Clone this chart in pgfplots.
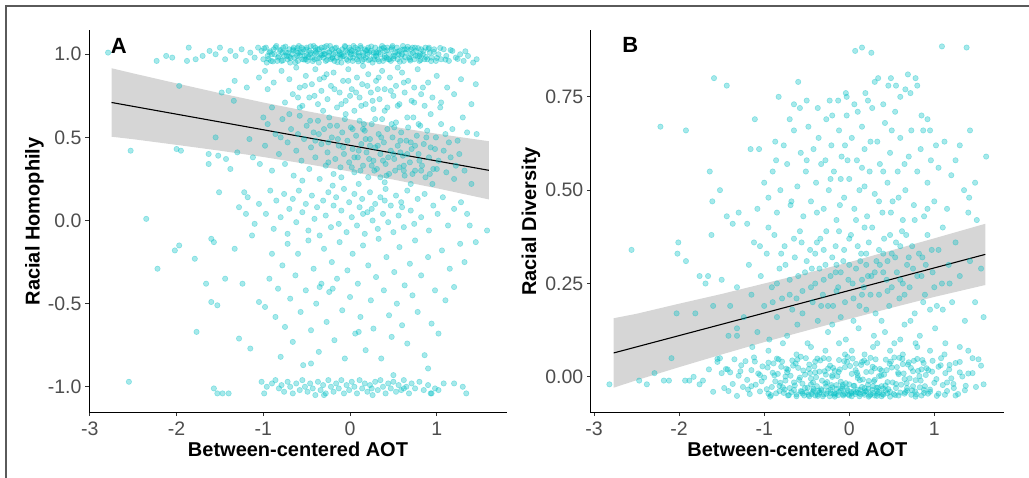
\documentclass[border=0pt]{standalone}
\usepackage{fontspec}
\setmainfont{Liberation Sans}
\usepackage{pgfplots}
\pgfplotsset{compat=1.18}

\definecolor{ptcol}{HTML}{00BFC4}
\definecolor{bandcol}{RGB}{153,153,153}
\definecolor{tickcol}{HTML}{4D4D4D}
\definecolor{framecol}{HTML}{5A5A5A}

\newcommand{\tickfont}{\fontsize{19.5bp}{23bp}\selectfont}
\newcommand{\titlefont}{\fontsize{20bp}{24bp}\selectfont\bfseries}
\newcommand{\panelfont}{\fontsize{22bp}{26bp}\selectfont\bfseries}

\pgfplotsset{
  panel/.style={
    scale only axis,
    axis x line*=bottom, axis y line*=left,
    tick align=outside,
    major tick length=3.5bp,
    tick style={black!80, line width=0.8bp},
    axis line style={black, line width=0.9bp},
    xticklabel style={font=\tickfont, text=tickcol, anchor=north, inner sep=0pt, yshift=-5.5bp},
    yticklabel style={font=\tickfont, text=tickcol, anchor=east, inner sep=0pt, xshift=-3.8bp},
    xlabel style={font=\titlefont, at={(axis description cs:0.5,0)}, anchor=base, yshift=-43.3bp},
    xtick={-3,-2,-1,0,1}, xticklabels={-3,-2,-1,0,1},
  },
  pts/.style={only marks, mark=*, mark size=2.7bp,
    mark options={draw=ptcol, fill=ptcol, draw opacity=0.35, fill opacity=0.35, line width=0.6bp}},
  band/.style={draw=none, fill=bandcol, fill opacity=0.4},
  fit/.style={black, line width=1.1bp, no marks},
}

\begin{document}
\begin{tikzpicture}
\useasboundingbox (0,0) rectangle (1029bp,478bp);
\draw[framecol, line width=1.6bp] (6bp,0) -- (6bp,472bp) -- (1029bp,472bp);

% ---------------- Panel A ----------------
\begin{axis}[panel,
  at={(89bp,65.3bp)}, anchor=south west,
  width=418bp, height=382.7bp,
  xmin=-3.01, xmax=1.81, ymin=-1.156, ymax=1.146,
  ytick={-1,-0.5,0,0.5,1}, yticklabels={-1.0,-0.5,0.0,0.5,1.0},
  xlabel={Between-centered AOT},
  ylabel={Racial Homophily},
  ylabel style={font=\titlefont, at={(axis description cs:-0.118,0.5)}, anchor=base},
]
\addplot[pts] coordinates {
(-2.79,1.01) (-2.23,0.96) (-2.12,0.99) (-2.05,0.98) (-1.86,1.04) (-1.88,0.96) (-1.78,0.97) (-1.70,0.99)
(-1.62,1.02) (-1.55,1.00) (-1.50,1.04) (-1.44,0.97) (-1.38,1.02) (-1.32,0.99) (-1.25,1.03) (-1.20,0.96)
(-1.15,1.01) (-1.10,0.98) (-1.06,1.04)
(-1.02,1.02) (-1.00,0.97) (-0.97,1.04) (-0.95,0.99) (-0.93,1.01) (-0.91,0.96) (-0.88,1.03) (-0.87,1.00)
(-0.85,1.05) (-0.83,0.98) (-0.81,1.02) (-0.79,0.96) (-0.77,1.04) (-0.76,0.99) (-0.74,1.01) (-0.72,0.97)
(-0.70,1.03) (-0.69,0.95) (-0.67,1.00) (-0.65,1.04) (-0.64,0.98) (-0.62,1.02) (-0.60,0.96) (-0.59,1.05)
(-0.57,1.01) (-0.55,0.97) (-0.54,1.03) (-0.52,0.99) (-0.50,1.04) (-0.49,0.96) (-0.47,1.02) (-0.46,1.00)
(-0.44,0.98) (-0.42,1.05) (-0.41,0.97) (-0.39,1.01) (-0.37,1.03) (-0.36,0.95) (-0.34,1.00) (-0.33,1.04)
(-0.31,0.98) (-0.30,1.02) (-0.28,0.96) (-0.27,1.05) (-0.25,0.99) (-0.24,1.01) (-0.22,0.97) (-0.21,1.03)
(-0.19,1.00) (-0.18,0.96) (-0.16,1.04) (-0.15,0.98) (-0.13,1.02) (-0.12,1.00) (-0.10,0.95) (-0.09,1.03)
(-0.07,0.99) (-0.06,1.05) (-0.04,0.97) (-0.03,1.01) (-0.01,1.04) (0.00,0.98) (0.02,1.02) (0.03,0.96)
(0.05,1.00) (0.06,1.04) (0.08,0.97) (0.09,1.03) (0.11,0.99) (0.12,1.05) (0.14,0.96) (0.15,1.01)
(0.17,1.03) (0.18,0.98) (0.20,1.00) (0.21,1.04) (0.23,0.97) (0.24,1.02) (0.26,0.95) (0.27,1.01)
(0.29,1.04) (0.30,0.99) (0.32,0.97) (0.34,1.03) (0.35,1.00) (0.37,1.05) (0.38,0.96) (0.40,1.02)
(0.42,0.98) (0.43,1.04) (0.45,1.00) (0.47,0.96) (0.48,1.03) (0.50,0.99) (0.52,1.01) (0.54,1.04)
(0.55,0.97) (0.57,1.02) (0.59,0.99) (0.61,1.05) (0.62,0.96) (0.64,1.01) (0.66,1.03) (0.68,0.98)
(0.70,1.00) (0.72,1.04) (0.74,0.97) (0.76,1.02) (0.78,0.99) (0.80,0.96) (0.82,1.03) (0.84,1.00)
(0.87,1.04) (0.89,0.97) (0.92,1.01) (0.94,0.98) (0.97,1.03) (0.99,0.96)
(-0.96,0.95) (-0.90,1.00) (-0.84,0.96) (-0.78,1.01) (-0.73,0.99) (-0.66,1.03) (-0.61,0.99) (-0.56,1.04)
(-0.51,0.97) (-0.45,1.01) (-0.40,1.04) (-0.35,0.98) (-0.29,1.00) (-0.23,1.05) (-0.17,1.01) (-0.11,0.98)
(-0.05,1.02) (0.01,1.00) (0.04,1.05) (0.10,1.01) (0.16,0.97) (0.22,1.01) (0.28,0.97) (0.33,1.01)
(0.39,1.04) (0.44,0.97) (0.49,1.05) (0.56,1.00) (0.63,1.03) (0.69,0.97) (0.75,1.04) (0.81,1.00)
(0.86,0.97) (0.91,1.04)
(-0.99,1.035) (-0.94,0.972) (-0.92,1.018) (-0.89,0.957) (-0.86,1.041) (-0.82,0.988) (-0.80,1.027) (-0.775,0.963)
(-0.745,1.046) (-0.715,1.009) (-0.685,0.978) (-0.655,1.022) (-0.63,0.951) (-0.605,1.037) (-0.58,0.992) (-0.555,1.013)
(-0.53,0.968) (-0.505,1.029) (-0.48,0.983) (-0.455,1.048) (-0.43,0.959) (-0.405,1.006) (-0.38,0.975) (-0.355,1.031)
(-0.325,0.994) (-0.295,1.043) (-0.265,0.966) (-0.235,1.017) (-0.205,0.981) (-0.175,1.036) (-0.145,0.953) (-0.115,1.011)
(-0.085,0.987) (-0.055,1.044) (-0.025,0.961) (0.005,1.026) (0.035,0.979) (0.065,1.015) (0.095,0.957) (0.125,1.039)
(0.155,0.993) (0.185,1.021) (0.215,0.964) (0.245,1.047) (0.275,0.985) (0.305,1.012) (0.335,0.958) (0.365,1.034)
(0.395,0.977) (0.425,1.023) (0.455,0.969) (0.485,1.041) (0.515,0.989) (0.545,1.016) (0.575,0.955) (0.605,1.028)
(0.635,0.982) (0.665,1.045) (0.695,0.962) (0.725,1.008) (0.755,0.991) (0.785,1.037) (0.815,0.966) (0.845,1.019)
(0.875,0.984) (0.905,1.032) (0.935,0.959) (0.965,1.014) (1.00,0.978) (1.04,1.038) (1.10,0.968) (1.16,1.025)
(1.24,0.972) (1.33,1.018)
(-0.70,0.985) (-0.50,0.995) (-0.30,1.002) (-0.10,0.997) (0.10,0.988) (0.30,1.005) (0.50,0.974) (0.70,1.030)
(0.20,1.025) (-0.20,0.975) (0.40,0.990) (-0.40,1.020) (0.60,1.000) (0.00,1.012) (-0.60,1.008) (0.80,0.990)
(1.02,1.00) (1.05,0.97) (1.08,1.03) (1.11,0.99) (1.14,0.96) (1.18,1.02) (1.22,0.98) (1.27,1.00)
(1.31,0.96) (1.36,0.99) (1.42,0.95) (1.46,0.97)
(-1.97,0.81) (-1.48,0.77) (-1.40,0.78) (-1.34,0.72) (-1.33,0.84) (-1.19,0.80) (-1.05,0.86) (-0.98,0.90)
(-0.95,0.79) (-0.88,0.83) (-0.79,0.90) (-0.75,0.71) (-0.70,0.85) (-0.66,0.76) (-0.62,0.92) (-0.58,0.80)
(-0.55,0.69) (-0.51,0.87) (-0.47,0.74) (-0.44,0.82) (-0.40,0.91) (-0.37,0.70) (-0.33,0.78) (-0.30,0.86)
(-0.26,0.73) (-0.22,0.81) (-0.19,0.89) (-0.15,0.68) (-0.12,0.77) (-0.08,0.84) (-0.05,0.72) (-0.02,0.91)
(0.02,0.79) (0.05,0.66) (0.08,0.86) (0.11,0.74) (0.14,0.82) (0.18,0.70) (0.21,0.88) (0.24,0.77)
(0.27,0.67) (0.30,0.84) (0.34,0.73) (0.37,0.90) (0.40,0.79) (0.43,0.68) (0.46,0.86) (0.50,0.75)
(0.53,0.81) (0.57,0.70) (0.60,0.89) (0.63,0.77) (0.67,0.84) (0.71,0.72) (0.74,0.80) (0.78,0.91)
(0.82,0.76) (0.86,0.69) (0.90,0.83) (0.95,0.74) (1.00,0.87) (1.05,0.71) (1.12,0.80) (1.20,0.76)
(1.28,0.85) (1.40,0.70) (1.45,0.82) (-0.35,0.85) (0.15,0.93) (0.55,0.92) (-0.60,0.74) (0.00,0.75)
(0.32,0.79)
(-2.53,0.42) (-2.00,0.43) (-1.95,0.42) (-1.55,0.50) (-1.63,0.40) (-1.63,0.34) (-1.52,0.39) (-1.43,0.37)
(-1.38,0.31) (-1.30,0.41) (-1.16,0.49) (-1.12,0.38) (-1.04,0.34) (-0.98,0.45) (-0.95,0.58) (-0.90,0.30)
(-0.86,0.52) (-0.82,0.40) (-0.78,0.61) (-0.75,0.34) (-0.72,0.47) (-0.68,0.55) (-0.65,0.27) (-0.62,0.42)
(-0.58,0.63) (-0.56,0.36) (-0.53,0.49) (-0.50,0.57) (-0.47,0.31) (-0.45,0.44) (-0.42,0.53) (-0.40,0.38)
(-0.37,0.60) (-0.35,0.25) (-0.33,0.46) (-0.30,0.55) (-0.28,0.33) (-0.26,0.41) (-0.24,0.62) (-0.21,0.50)
(-0.19,0.28) (-0.17,0.37) (-0.15,0.57) (-0.13,0.45) (-0.11,0.32) (-0.09,0.53) (-0.07,0.40) (-0.05,0.64)
(-0.03,0.48) (-0.01,0.35) (0.01,0.56) (0.03,0.43) (0.05,0.29) (0.07,0.51) (0.09,0.38) (0.11,0.60)
(0.13,0.46) (0.15,0.33) (0.17,0.54) (0.19,0.41) (0.21,0.26) (0.23,0.49) (0.25,0.58) (0.27,0.36)
(0.29,0.44) (0.31,0.31) (0.33,0.52) (0.35,0.40) (0.37,0.61) (0.39,0.47) (0.41,0.34) (0.43,0.55)
(0.45,0.28) (0.47,0.42) (0.49,0.50) (0.51,0.37) (0.53,0.59) (0.55,0.45) (0.57,0.32) (0.59,0.53)
(0.61,0.39) (0.63,0.27) (0.65,0.48) (0.67,0.56) (0.69,0.35) (0.71,0.43) (0.73,0.62) (0.75,0.30)
(0.77,0.51) (0.79,0.40) (0.81,0.57) (0.83,0.33) (0.85,0.46) (0.87,0.26) (0.89,0.54) (0.91,0.38)
(0.93,0.44) (0.96,0.31) (0.99,0.50) (1.02,0.36) (1.05,0.58) (1.08,0.42) (1.11,0.29) (1.14,0.47)
(1.18,0.55) (1.22,0.33) (1.26,0.40) (1.30,0.62) (1.35,0.53) (1.40,0.22) (1.46,0.52) (1.20,0.25)
(0.95,0.22) (0.70,0.22) (0.40,0.23) (0.10,0.22) (-0.20,0.21) (-0.55,0.24) (0.02,0.32) (0.12,0.30)
(0.22,0.37) (0.32,0.45) (0.42,0.27) (0.52,0.30) (0.62,0.33) (0.72,0.28) (0.82,0.30) (0.92,0.28)
(0.38,0.36) (0.28,0.30) (-0.08,0.44) (0.18,0.49) (0.58,0.48) (0.48,0.58) (0.66,0.40) (-0.25,0.47)
(-0.60,0.52)
(-0.58,0.68) (-0.52,0.81) (-0.46,0.60) (-0.41,0.75) (-0.36,0.52) (-0.31,0.66) (-0.27,0.88) (-0.23,0.57)
(-0.18,0.79) (-0.14,0.49) (-0.10,0.70) (-0.06,0.61) (-0.02,0.84) (0.03,0.55) (0.07,0.77) (0.10,0.42)
(0.13,0.69) (0.16,0.58) (0.20,0.81) (0.23,0.45) (0.26,0.72) (0.29,0.61) (0.33,0.86) (0.36,0.50)
(0.40,0.66) (0.44,0.38) (0.47,0.78) (0.51,0.56) (0.55,0.69) (0.58,0.41) (0.62,0.83) (0.66,0.62)
(0.70,0.47) (0.74,0.71) (0.79,0.58) (0.84,0.80) (0.88,0.50) (0.93,0.64) (0.98,0.43) (1.04,0.68)
(1.10,0.52) (1.16,0.38) (1.24,0.48) (1.32,0.30) (-0.70,0.64) (-0.80,0.50) (-0.90,0.68) (-1.00,0.62)
(-0.25,0.35) (0.05,0.38) (0.35,0.26) (0.62,0.30) (0.80,0.36) (1.00,0.31) (-0.10,0.26) (0.25,0.33)
(0.50,0.40) (0.75,0.45) (0.15,0.55) (-0.40,0.48)
(-2.35,0.01) (-1.51,0.17) (-1.22,0.17) (-1.18,0.14) (-1.28,0.08) (-1.20,0.04) (-1.10,-0.02) (-1.05,0.10)
(-0.97,0.04) (-0.92,0.18) (-0.88,-0.05) (-0.85,0.12) (-0.80,0.02) (-0.76,0.16) (-0.72,-0.08) (-0.70,0.07)
(-0.66,0.13) (-0.62,-0.01) (-0.59,0.18) (-0.55,0.05) (-0.51,0.10) (-0.48,-0.06) (-0.44,0.15) (-0.41,0.01)
(-0.38,0.08) (-0.35,-0.09) (-0.31,0.12) (-0.28,0.03) (-0.25,0.17) (-0.22,-0.04) (-0.19,0.09) (-0.16,0.14)
(-0.13,-0.02) (-0.10,0.06) (-0.07,0.19) (-0.04,-0.07) (-0.01,0.11) (0.02,0.02) (0.05,0.16) (0.08,-0.03)
(0.11,0.08) (0.14,0.13) (0.17,-0.08) (0.20,0.05) (0.23,0.17) (0.26,0.00) (0.29,0.10) (0.32,-0.05)
(0.35,0.14) (0.38,0.04) (0.41,0.19) (0.44,-0.01) (0.47,0.09) (0.50,-0.07) (0.53,0.15) (0.56,0.03)
(0.59,0.11) (0.62,-0.04) (0.66,0.18) (0.70,0.06) (0.74,-0.02) (0.78,0.13) (0.82,0.02) (0.86,0.16)
(0.91,-0.06) (0.96,0.09) (1.01,0.04) (1.07,0.14) (1.13,-0.03) (1.20,0.07) (1.28,0.11) (1.35,0.04)
(1.38,-0.03) (1.58,-0.06) (0.15,0.04) (0.25,0.07) (0.40,0.12) (0.60,0.08)
(-2.22,-0.29) (-2.02,-0.18) (-1.97,-0.15) (-1.79,-0.23) (-1.60,-0.11) (-1.57,-0.13) (-1.33,-0.17) (-1.13,-0.09)
(-1.66,-0.38) (-1.44,-0.35) (-1.24,-0.38) (-1.60,-0.49) (-1.53,-0.51) (-1.77,-0.67) (-1.28,-0.71) (-1.15,-0.77)
(-1.05,-0.49) (-0.98,-0.52) (-0.93,-0.35) (-0.90,-0.20) (-0.86,-0.58) (-0.83,-0.41) (-0.80,-0.82) (-0.78,-0.27)
(-0.75,-0.64) (-0.72,-0.14) (-0.69,-0.47) (-0.66,-0.73) (-0.63,-0.33) (-0.60,-0.20) (-0.57,-0.55) (-0.54,-0.87)
(-0.51,-0.42) (-0.48,-0.12) (-0.45,-0.66) (-0.42,-0.29) (-0.39,-0.50) (-0.36,-0.79) (-0.33,-0.38) (-0.30,-0.17)
(-0.27,-0.61) (-0.24,-0.43) (-0.21,-0.25) (-0.18,-0.72) (-0.15,-0.35) (-0.12,-0.13) (-0.09,-0.54) (-0.06,-0.83)
(-0.03,-0.30) (0.00,-0.46) (0.03,-0.20) (0.06,-0.68) (0.09,-0.38) (0.12,-0.58) (0.15,-0.15) (0.18,-0.78)
(0.21,-0.27) (0.24,-0.48) (0.27,-0.65) (0.30,-0.34) (0.33,-0.11) (0.36,-0.83) (0.39,-0.42) (0.42,-0.22)
(0.45,-0.57) (0.48,-0.70) (0.51,-0.31) (0.54,-0.50) (0.57,-0.16) (0.60,-0.63) (0.63,-0.39) (0.66,-0.74)
(0.69,-0.26) (0.72,-0.45) (0.75,-0.12) (0.78,-0.55) (0.82,-0.33) (0.86,-0.81) (0.90,-0.22) (0.94,-0.62)
(0.98,-0.42) (1.02,-0.68) (1.06,-0.18) (1.10,-0.48) (1.15,-0.29) (1.20,-0.40) (1.27,-0.14) (1.32,-0.25)
(1.45,-0.13) (-0.35,-0.40) (-0.20,-0.41) (0.10,-0.67) (0.50,-0.93) (0.90,-0.89) (-0.45,-0.86)
(-2.55,-0.97) (-1.57,-1.01) (-1.53,-1.04) (-1.47,-1.04) (-1.40,-1.04) (-1.02,-0.97) (-0.99,-1.04) (-0.96,-1.00)
(-0.90,-0.98) (-0.86,-0.96) (-0.82,-1.01) (-0.79,-0.99) (-0.76,-1.03) (-0.72,-0.97) (-0.69,-1.00) (-0.66,-1.04)
(-0.62,-0.98) (-0.58,-1.02) (-0.55,-0.96) (-0.52,-1.00) (-0.49,-1.03) (-0.46,-0.98) (-0.43,-1.01) (-0.40,-1.05)
(-0.37,-0.97) (-0.34,-1.02) (-0.31,-0.99) (-0.28,-1.04) (-0.25,-0.96) (-0.22,-1.00) (-0.19,-1.03) (-0.16,-0.98)
(-0.13,-1.01) (-0.10,-0.96) (-0.07,-1.04) (-0.04,-0.99) (-0.01,-1.02) (0.02,-0.97) (0.05,-1.00) (0.08,-1.04)
(0.11,-0.96) (0.14,-1.01) (0.17,-0.98) (0.20,-1.03) (0.23,-0.99) (0.26,-1.05) (0.29,-0.97) (0.32,-1.02)
(0.35,-0.96) (0.38,-1.00) (0.41,-1.04) (0.44,-0.98) (0.47,-1.01) (0.50,-0.97) (0.53,-1.03) (0.56,-0.99)
(0.59,-1.02) (0.62,-0.96) (0.65,-1.00) (0.68,-1.04) (0.71,-0.98) (0.75,-1.01) (0.80,-0.97) (0.85,-1.02)
(0.90,-0.99) (0.94,-1.04) (0.98,-1.01) (1.02,-1.02) (1.08,-0.98) (1.20,-0.98) (1.30,-1.00) (1.34,-1.04)
(-0.30,-1.05) (0.25,-1.01) (0.62,-1.01) (0.93,-1.04)
};
\addplot[band] coordinates {
(-2.75,0.916) (-2.5,0.885) (-2,0.825) (-1.5,0.766) (-1,0.710) (-0.5,0.658) (0,0.609) (0.5,0.564) (1,0.522) (1.6,0.477)
(1.6,0.127) (1,0.194) (0.5,0.246) (0,0.295) (-0.5,0.340) (-1,0.382) (-1.5,0.420) (-2,0.455) (-2.5,0.489) (-2.75,0.504)
} -- cycle;
\addplot[fit] coordinates {(-2.75,0.710) (1.60,0.302)};
\node[anchor=base west, font=\panelfont, inner sep=0pt] at (axis cs:-2.76,1.006) {A};
\end{axis}

% ---------------- Panel B ----------------
\begin{axis}[panel,
  at={(590.7bp,65.3bp)}, anchor=south west,
  width=413.3bp, height=382.7bp,
  xmin=-3.04, xmax=1.82, ymin=-0.096, ymax=0.929,
  ytick={0,0.25,0.5,0.75}, yticklabels={0.00,0.25,0.50,0.75},
  xlabel={Between-centered AOT},
  ylabel={Racial Diversity},
  ylabel style={font=\titlefont, at={(axis description cs:-0.132,0.5)}, anchor=base},
]
\addplot[pts] coordinates {
(-2.22,0.67) (-1.92,0.66) (-1.59,0.80) (-1.44,0.78) (0.07,0.873) (0.15,0.882) (0.26,0.868) (1.09,0.885)
(1.38,0.882) (1.42,0.66) (1.61,0.59) (-1.64,0.55) (-1.52,0.50) (-1.61,0.47)
(-1.16,0.61) (-1.06,0.61) (-1.11,0.69) (-0.87,0.63) (-0.86,0.58) (-0.83,0.75) (-0.70,0.69) (-0.60,0.79)
(-0.58,0.72) (-0.37,0.72) (-0.23,0.74) (-0.13,0.74) (-0.04,0.76) (-0.03,0.75) (0.06,0.73) (0.19,0.76)
(0.22,0.74) (0.30,0.79) (0.34,0.80) (0.46,0.78) (0.49,0.80) (0.60,0.75) (0.69,0.81) (0.78,0.80)
(0.66,0.77) (0.72,0.76) (0.80,0.78) (0.92,0.69) (0.95,0.66) (0.87,0.66) (1.02,0.62) (1.35,0.50)
(1.41,0.48) (1.48,0.52) (1.40,0.44) (1.25,0.58) (1.20,0.54) (1.12,0.63) (1.05,0.56) (1.00,0.47)
(0.96,0.58) (0.92,0.52) (0.88,0.43) (0.84,0.61) (0.80,0.55) (0.76,0.46) (0.73,0.66) (0.70,0.59)
(0.66,0.50) (0.63,0.42) (0.60,0.64) (0.57,0.55) (0.54,0.71) (0.51,0.47) (0.48,0.60) (0.45,0.52)
(0.42,0.68) (0.39,0.44) (0.36,0.57) (0.33,0.63) (0.30,0.49) (0.27,0.72) (0.24,0.55) (0.21,0.43)
(0.18,0.61) (0.15,0.67) (0.12,0.50) (0.09,0.58) (0.06,0.45) (0.03,0.64) (0.00,0.53) (-0.03,0.70)
(-0.06,0.48) (-0.09,0.59) (-0.12,0.66) (-0.15,0.42) (-0.18,0.55) (-0.21,0.62) (-0.24,0.50) (-0.27,0.69)
(-0.30,0.45) (-0.33,0.57) (-0.36,0.64) (-0.39,0.52) (-0.42,0.61) (-0.45,0.47) (-0.48,0.67) (-0.51,0.55)
(-0.54,0.43) (-0.57,0.60) (-0.61,0.51) (-0.65,0.66) (-0.69,0.46) (-0.73,0.57) (-0.77,0.62) (-0.81,0.50)
(-0.85,0.44) (-0.90,0.55) (-0.95,0.48) (-1.00,0.52) (-1.08,0.45) (-1.20,0.41) (-1.30,0.44) (-1.44,0.43)
(-0.50,0.74) (-0.20,0.70) (0.10,0.71) (0.40,0.73) (0.55,0.78) (0.85,0.70) (-0.65,0.73) (0.25,0.63)
(-0.10,0.53) (0.65,0.57) (0.35,0.47) (-0.28,0.58) (0.50,0.66) (0.15,0.56) (-0.05,0.62) (1.30,0.62)
(1.15,0.45) (1.50,0.42)
(-2.56,0.34) (-2.01,0.36) (-2.02,0.33) (-1.92,0.31) (-1.76,0.27) (-1.66,0.27) (-1.69,0.25) (-1.62,0.38)
(-1.50,0.26) (-1.37,0.41) (-1.32,0.24) (-2.03,0.17) (-1.81,0.17) (-1.60,0.19) (-1.40,0.19) (-1.32,0.13)
(-1.24,0.16) (-1.18,0.30) (-1.15,0.22) (-1.12,0.36) (-1.08,0.12) (-1.04,0.27) (-1.00,0.19) (-0.97,0.33)
(-0.94,0.10) (-0.91,0.24) (-0.88,0.38) (-0.85,0.16) (-0.82,0.29) (-0.79,0.21) (-0.76,0.35) (-0.73,0.11)
(-0.70,0.26) (-0.67,0.18) (-0.64,0.32) (-0.61,0.14) (-0.58,0.39) (-0.55,0.23) (-0.52,0.28) (-0.49,0.09)
(-0.46,0.34) (-0.43,0.20) (-0.40,0.25) (-0.37,0.15) (-0.34,0.37) (-0.31,0.22) (-0.28,0.30) (-0.25,0.12)
(-0.22,0.27) (-0.19,0.19) (-0.16,0.35) (-0.13,0.24) (-0.10,0.16) (-0.07,0.31) (-0.04,0.10) (-0.01,0.26)
(0.02,0.38) (0.05,0.21) (0.08,0.29) (0.11,0.13) (0.14,0.33) (0.17,0.24) (0.20,0.18) (0.23,0.36)
(0.26,0.27) (0.29,0.11) (0.32,0.31) (0.35,0.22) (0.38,0.15) (0.41,0.37) (0.44,0.26) (0.47,0.19)
(0.50,0.33) (0.53,0.09) (0.56,0.28) (0.59,0.21) (0.62,0.39) (0.65,0.14) (0.68,0.30) (0.71,0.24)
(0.74,0.35) (0.77,0.17) (0.80,0.27) (0.83,0.11) (0.86,0.32) (0.89,0.22) (0.92,0.38) (0.95,0.18)
(0.98,0.28) (1.01,0.13) (1.05,0.34) (1.09,0.25) (1.13,0.09) (1.17,0.30) (1.21,0.20) (1.25,0.36)
(1.30,0.27) (1.36,0.15) (1.42,0.31) (1.48,0.20) (1.55,0.29) (1.58,0.16) (-0.60,0.27) (-0.45,0.24)
(-0.30,0.26) (-0.15,0.23) (0.00,0.30) (0.15,0.26) (0.30,0.28) (0.45,0.31) (0.60,0.26) (0.75,0.29)
(-0.50,0.31) (-0.35,0.29) (-0.20,0.32) (-0.05,0.20) (0.10,0.35) (0.25,0.22) (0.40,0.33) (0.55,0.36)
(0.70,0.32) (0.85,0.27) (-0.70,0.22) (-0.55,0.17) (-0.40,0.33) (-0.25,0.19) (-0.10,0.28) (0.05,0.15)
(0.20,0.30) (0.35,0.34) (0.50,0.24) (0.65,0.22) (0.90,0.30) (1.00,0.24) (-0.80,0.33) (-0.65,0.37)
(-0.20,0.14) (0.12,0.19) (0.42,0.12) (0.60,0.10) (0.28,0.08) (0.80,0.08) (-0.05,0.06) (1.10,0.18)
(-0.90,0.20) (0.48,0.38) (0.18,0.40) (-0.12,0.39) (-0.38,0.36)
(-0.75,0.30) (-0.68,0.47) (-0.62,0.21) (-0.56,0.36) (-0.50,0.58) (-0.44,0.29) (-0.38,0.44) (-0.33,0.19)
(-0.27,0.39) (-0.22,0.53) (-0.16,0.28) (-0.11,0.46) (-0.06,0.34) (-0.02,0.58) (0.04,0.25) (0.08,0.42)
(0.13,0.31) (0.18,0.51) (0.22,0.27) (0.27,0.40) (0.31,0.17) (0.36,0.30) (0.40,0.55) (0.45,0.23)
(0.49,0.44) (0.54,0.32) (0.58,0.48) (0.63,0.25) (0.67,0.38) (0.72,0.15) (0.77,0.42) (0.82,0.33)
(0.87,0.20) (0.92,0.45) (0.97,0.34) (1.03,0.19) (1.10,0.40) (1.18,0.25) (-0.85,0.25) (-0.95,0.40)
(-1.05,0.35) (0.00,0.37) (0.20,0.33) (0.40,0.28) (-0.30,0.34) (0.60,0.35) (0.15,0.22) (-0.15,0.30)
(-1.42,0.11) (-1.32,0.11) (-1.52,0.05) (-1.55,0.048) (-1.14,0.08) (-0.95,0.07) (-0.78,0.09) (-0.62,0.06)
(-0.45,0.08) (-0.28,0.07) (-0.12,0.09) (0.03,0.07) (0.18,0.06) (0.33,0.09) (0.48,0.07) (0.63,0.06)
(0.78,0.09) (0.95,0.07) (1.12,0.06) (1.30,0.08) (1.45,0.05) (1.55,0.03) (1.58,-0.02) (1.40,0.07)
(-2.82,-0.02) (-2.47,-0.01) (-2.38,-0.02) (-2.29,0.01) (-2.18,-0.01) (-2.12,-0.01) (-2.09,0.05) (-1.93,-0.01)
(-1.88,-0.01) (-1.83,0.00) (-1.76,-0.02) (-1.72,-0.01) (-1.65,0.02) (-1.60,-0.04) (-1.55,0.04) (-1.50,0.01)
(-1.47,-0.03) (-1.43,0.02)
(-1.45,0.021) (-1.42,-0.038) (-1.40,0.012) (-1.37,-0.019) (-1.35,0.047) (-1.32,-0.051) (-1.30,0.003) (-1.27,0.031)
(-1.25,-0.027) (-1.22,0.042) (-1.20,-0.008) (-1.17,-0.046) (-1.15,0.018) (-1.12,0.052) (-1.10,-0.021) (-1.07,0.009)
(-1.05,-0.039) (-1.02,0.028) (-1.00,-0.002) (-0.97,-0.033) (-0.95,0.038) (-0.92,-0.049) (-0.90,0.011) (-0.87,-0.012)
(-0.85,0.049) (-0.82,-0.024) (-0.80,0.027) (-0.77,-0.043) (-0.75,0.001) (-0.72,0.019) (-0.70,-0.030) (-0.67,0.044)
(-0.65,-0.015) (-0.62,-0.052) (-0.60,0.024) (-0.57,0.054) (-0.55,-0.018) (-0.52,0.006) (-0.50,-0.041) (-0.47,0.033)
(-0.45,-0.005) (-0.42,-0.036) (-0.40,0.041) (-0.37,-0.047) (-0.35,0.014) (-0.32,-0.010) (-0.30,0.050) (-0.27,-0.026)
(-0.25,0.022) (-0.22,-0.044) (-0.20,0.004) (-0.17,0.016) (-0.15,-0.032) (-0.12,0.045) (-0.10,-0.013) (-0.07,-0.050)
(-0.05,0.026) (-0.02,0.053) (0.00,-0.020) (0.03,0.008) (0.05,-0.040) (0.08,0.035) (0.10,-0.003) (0.13,-0.035)
(0.15,0.040) (0.18,-0.048) (0.20,0.013) (0.23,-0.011) (0.25,0.051) (0.28,-0.025) (0.30,0.023) (0.33,-0.045)
(0.35,0.002) (0.38,0.017) (0.40,-0.031) (0.43,0.046) (0.45,-0.014) (0.48,-0.053) (0.50,0.025) (0.53,0.052)
(0.55,-0.019) (0.58,0.007) (0.60,-0.042) (0.63,0.034) (0.65,-0.006) (0.68,-0.037) (0.70,0.039) (0.73,-0.048)
(0.75,0.015) (0.78,-0.009) (0.80,0.048) (0.83,-0.028) (0.85,0.020) (0.88,-0.043) (0.90,0.005) (0.93,0.018)
(0.95,-0.034) (0.98,0.043) (1.00,-0.016) (1.03,-0.051) (1.05,0.027) (1.08,0.050) (1.10,-0.022) (1.13,0.010)
(1.15,-0.038) (1.18,0.032) (1.20,-0.004) (1.23,-0.030) (1.25,0.037) (1.28,-0.046) (1.30,0.012) (1.33,0.001)
(1.37,-0.024) (1.40,0.009) (1.45,0.010) (1.49,-0.027) (1.52,0.047)
(-0.91,-0.027) (-0.89,0.036) (-0.86,-0.044) (-0.84,0.008) (-0.81,-0.016) (-0.79,0.041) (-0.76,-0.034) (-0.74,0.022)
(-0.71,-0.049) (-0.69,0.003) (-0.66,0.030) (-0.64,-0.023) (-0.61,0.046) (-0.59,-0.008) (-0.56,-0.040) (-0.54,0.017)
(-0.51,0.050) (-0.49,-0.029) (-0.46,0.010) (-0.44,-0.046) (-0.41,0.028) (-0.39,-0.001) (-0.36,-0.037) (-0.34,0.044)
(-0.31,-0.052) (-0.29,0.015) (-0.26,-0.014) (-0.24,0.048) (-0.21,-0.022) (-0.19,0.024) (-0.16,-0.045) (-0.14,0.002)
(-0.11,0.020) (-0.09,-0.031) (-0.06,0.042) (-0.04,-0.017) (-0.01,-0.047) (0.01,0.029) (0.04,0.049) (0.06,-0.024)
(0.09,0.011) (0.11,-0.043) (0.14,0.032) (0.16,-0.007) (0.19,-0.039) (0.21,0.038) (0.24,-0.050) (0.26,0.014)
(0.29,-0.012) (0.31,0.047) (0.34,-0.029) (0.36,0.021) (0.39,-0.046) (0.41,0.006) (0.44,0.018) (0.46,-0.033)
(0.49,0.041) (0.51,-0.015) (0.54,-0.049) (0.56,0.026) (0.59,0.051) (0.61,-0.021) (0.64,0.009) (0.66,-0.041)
(0.69,0.033) (0.71,-0.004) (0.74,-0.036) (0.76,0.043) (0.79,-0.047) (0.81,0.016) (0.84,-0.010) (0.86,0.045)
(0.89,-0.025) (0.91,0.023)
(-0.55,-0.045) (-0.52,-0.030) (-0.48,-0.048) (-0.45,-0.020) (-0.43,-0.040) (-0.40,-0.050) (-0.38,-0.025) (-0.35,-0.042)
(-0.33,-0.033) (-0.30,-0.047) (-0.28,-0.018) (-0.25,-0.038) (-0.23,-0.052) (-0.20,-0.028) (-0.18,-0.044) (-0.15,-0.022)
(-0.13,-0.049) (-0.10,-0.036) (-0.08,-0.026) (-0.05,-0.045) (-0.03,-0.031) (0.00,-0.050) (0.02,-0.040) (0.05,-0.024)
(0.07,-0.046) (0.10,-0.034) (0.12,-0.052) (0.15,-0.027) (0.17,-0.043) (0.20,-0.038) (0.22,-0.021) (0.25,-0.047)
(0.27,-0.035) (0.30,-0.050) (0.32,-0.029) (0.35,-0.041) (0.38,-0.025) (0.40,-0.048) (0.43,-0.037) (0.45,-0.044)
(-0.20,0.000) (0.10,0.004) (0.30,-0.008) (-0.40,0.012) (0.55,-0.030) (0.65,-0.045) (0.75,-0.025) (0.85,-0.050)
(0.95,-0.040) (1.05,-0.045) (1.15,-0.015) (1.25,-0.050) (-0.65,-0.035) (-0.75,-0.010) (-0.95,-0.045) (-1.05,0.005)
(-1.15,-0.025)
(-1.28,0.015) (-1.19,-0.034) (-1.11,0.041) (-1.03,-0.012) (-0.96,0.025) (-0.93,-0.053) (-0.88,0.004) (-0.83,0.047)
(-0.78,-0.028) (-0.73,0.012) (-0.68,-0.041) (-0.63,0.036) (-0.58,-0.002) (-0.53,-0.050) (-0.475,0.021) (-0.425,-0.015)
(-0.375,0.049) (-0.325,-0.036) (-0.275,0.006) (-0.225,0.030) (-0.175,-0.048) (-0.125,0.013) (-0.075,-0.021) (-0.025,0.040)
(0.025,-0.044) (0.075,0.018) (0.125,-0.009) (0.175,0.044) (0.225,-0.032) (0.275,0.027) (0.325,-0.051) (0.375,0.003)
(0.425,-0.023) (0.475,0.035) (0.525,-0.046) (0.575,0.011) (0.625,0.048) (0.675,-0.017) (0.725,0.024) (0.775,-0.039)
(0.825,0.002) (0.875,0.037) (0.925,-0.045) (0.975,0.014) (1.025,-0.006) (1.075,0.031) (1.125,-0.048) (1.175,0.020)
(1.225,-0.019) (1.30,0.040) (1.36,-0.036)
(-0.62,-0.047) (-0.57,-0.038) (-0.47,-0.052) (-0.42,-0.032) (-0.37,-0.051) (-0.27,-0.045) (-0.22,-0.035) (-0.17,-0.053)
(-0.12,-0.040) (-0.07,-0.047) (-0.02,-0.036) (0.03,-0.052) (0.08,-0.041) (0.13,-0.046) (0.18,-0.030) (0.23,-0.053)
(0.28,-0.043) (0.33,-0.037) (0.38,-0.052) (0.48,-0.040) (0.58,-0.050) (0.68,-0.030) (0.78,-0.053) (0.88,-0.035)
(-0.72,-0.050) (-0.82,-0.038)
};
\addplot[band] coordinates {
(-2.77,0.157) (-2.5,0.169) (-2,0.196) (-1.5,0.222) (-1,0.250) (-0.5,0.278) (0,0.307) (0.5,0.339) (1,0.371) (1.6,0.410)
(1.6,0.246) (1,0.214) (0.5,0.185) (0,0.155) (-0.5,0.124) (-1,0.093) (-1.5,0.060) (-2,0.026) (-2.5,-0.009) (-2.77,-0.029)
} -- cycle;
\addplot[fit] coordinates {(-2.77,0.064) (1.60,0.328)};
\node[anchor=base west, font=\panelfont, inner sep=0pt] at (axis cs:-2.67,0.869) {B};
\end{axis}
\end{tikzpicture}
\end{document}
